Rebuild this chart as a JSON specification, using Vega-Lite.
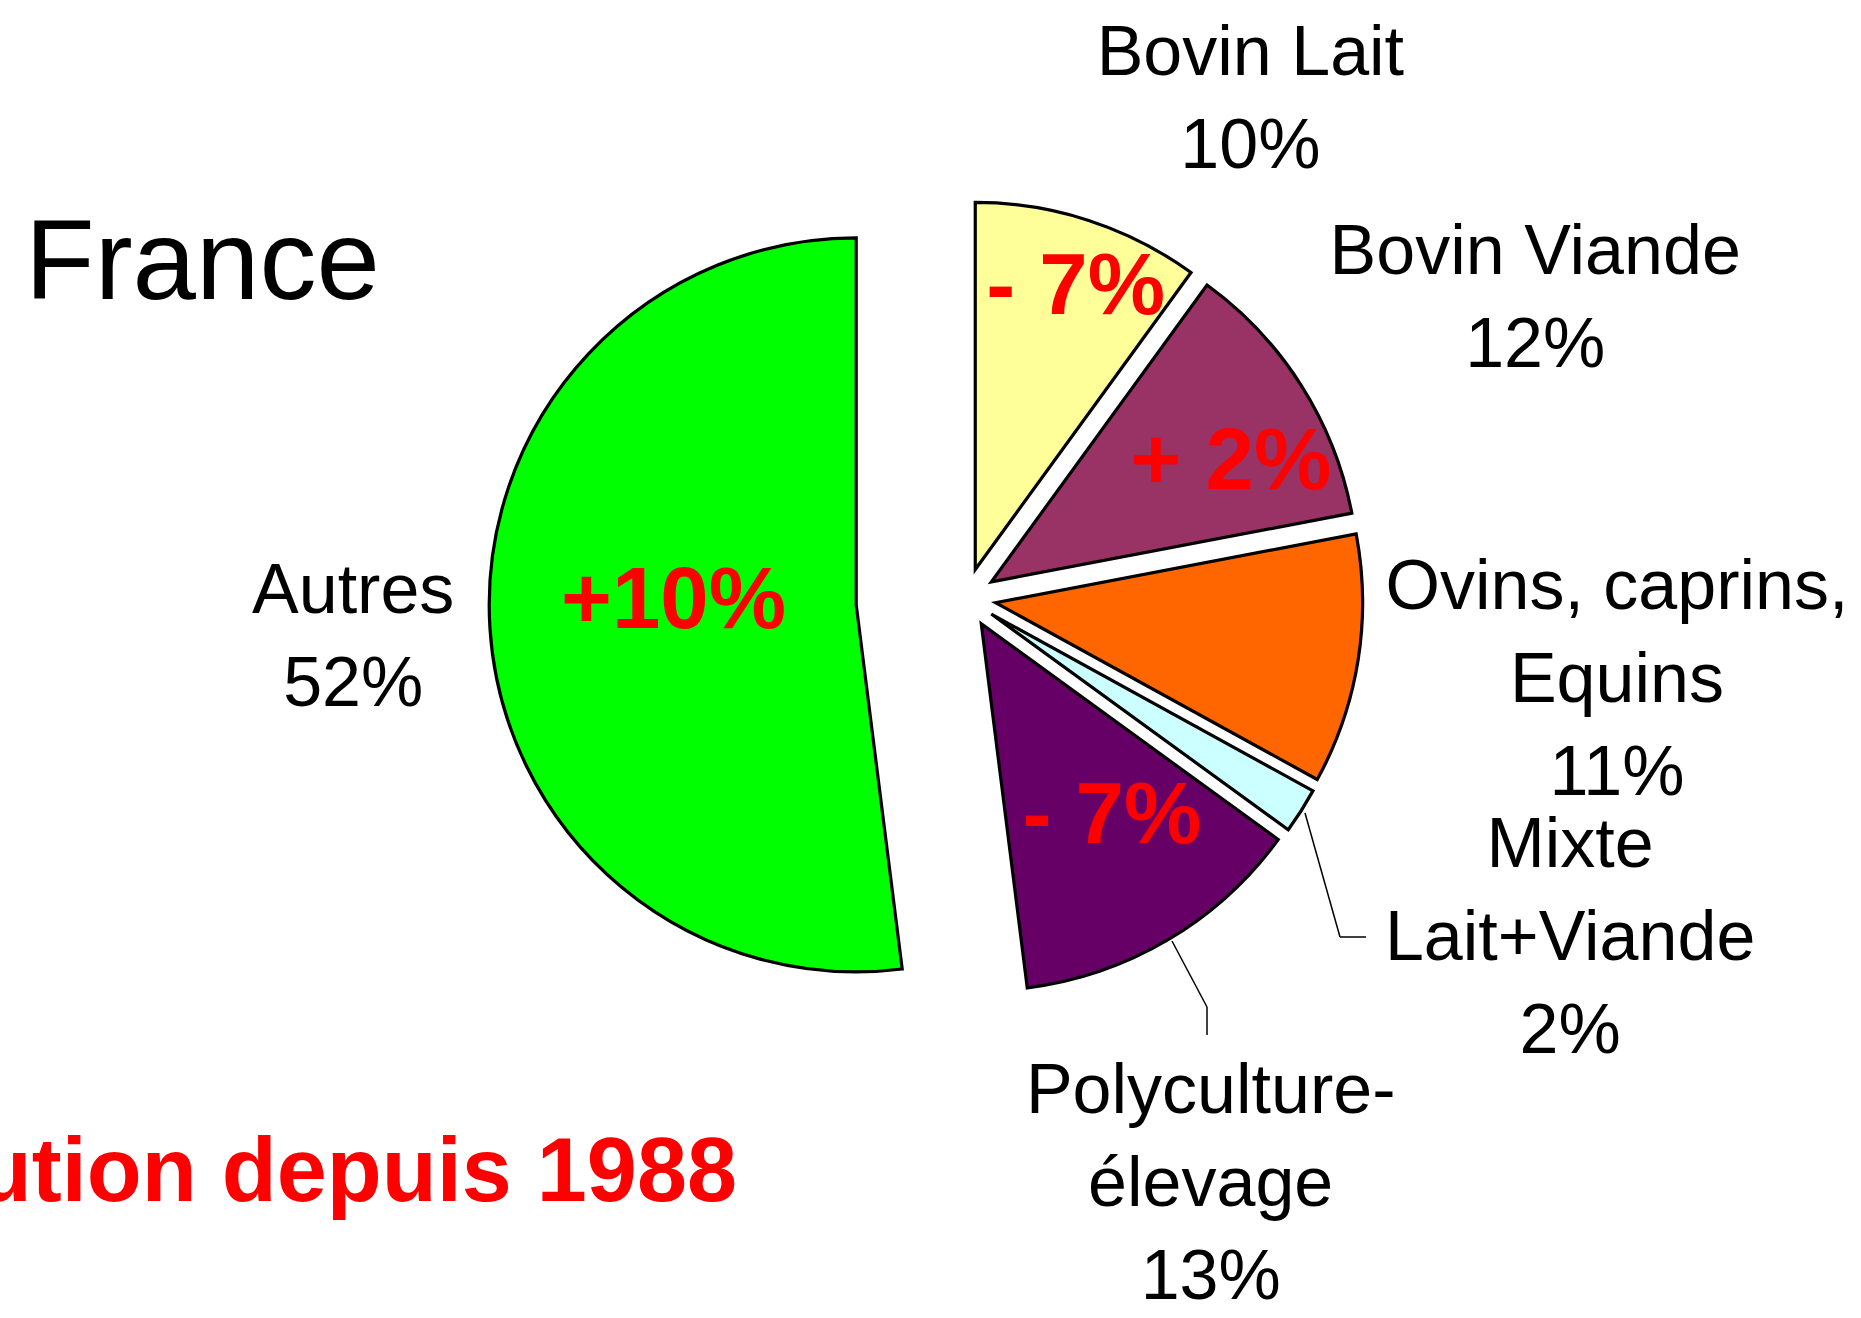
{
  "$schema": "https://vega.github.io/schema/vega-lite/v6.json",
  "width": 1861,
  "height": 1318,
  "padding": 0,
  "autosize": {"type": "none"},
  "background": "white",
  "config": {"view": {"stroke": null}},
  "datasets": {
    "parts": [
      {"cat": "Bovin Lait", "v": 10, "evol": "- 7%"},
      {"cat": "Bovin Viande", "v": 12, "evol": "+ 2%"},
      {"cat": "Ovins, caprins,\nEquins", "v": 11, "evol": ""},
      {"cat": "Mixte\nLait+Viande", "v": 2, "evol": ""},
      {"cat": "Polyculture-\nélevage", "v": 13, "evol": "- 7%"},
      {"cat": "Autres", "v": 52, "evol": "+10%"}
    ],
    "titles": [{"t": "France"}],
    "notes": [{"t": "Évolution depuis 1988"}]
  },
  "layer": [
    {
      "data": {"name": "parts"},
      "transform": [{"window": [{"op": "row_number", "as": "i"}]}],
      "mark": {
        "type": "arc",
        "outerRadius": 367,
        "stroke": "black",
        "strokeWidth": 3.2,
        "x": {"expr": "966 + [30,30,30,30,30,110][datum.i-1] * sin(PI*(datum.v_start+datum.v_end)/100)"},
        "y": {"expr": "598 - [30,30,30,30,30,110][datum.i-1] * cos(PI*(datum.v_start+datum.v_end)/100)"}
      },
      "encoding": {
        "theta": {"field": "v", "type": "quantitative", "stack": true},
        "order": {"field": "i", "type": "quantitative"},
        "color": {
          "field": "cat",
          "type": "nominal",
          "legend": null,
          "scale": {
            "domain": ["Bovin Lait", "Bovin Viande", "Ovins, caprins,\nEquins", "Mixte\nLait+Viande", "Polyculture-\nélevage", "Autres"],
            "range": ["#FFFF99", "#993366", "#FF6600", "#CCFFFF", "#660066", "#00FF00"]
          }
        }
      }
    },
    {
      "data": {"name": "parts"},
      "transform": [
        {"window": [{"op": "row_number", "as": "i"}]},
        {"filter": "datum.i == 4 || datum.i == 5"}
      ],
      "mark": {"type": "rule", "stroke": "black", "strokeWidth": 1.5},
      "encoding": {
        "x": {"value": {"expr": "datum.i == 4 ? 1305 : 1172"}},
        "y": {"value": {"expr": "datum.i == 4 ? 813 : 941"}},
        "x2": {"value": {"expr": "datum.i == 4 ? 1340 : 1207"}},
        "y2": {"value": {"expr": "datum.i == 4 ? 937 : 1007"}}
      }
    },
    {
      "data": {"name": "parts"},
      "transform": [
        {"window": [{"op": "row_number", "as": "i"}]},
        {"filter": "datum.i == 4 || datum.i == 5"}
      ],
      "mark": {"type": "rule", "stroke": "black", "strokeWidth": 1.5},
      "encoding": {
        "x": {"value": {"expr": "datum.i == 4 ? 1340 : 1207"}},
        "y": {"value": {"expr": "datum.i == 4 ? 937 : 1007"}},
        "x2": {"value": {"expr": "datum.i == 4 ? 1366 : 1207"}},
        "y2": {"value": {"expr": "datum.i == 4 ? 937 : 1035"}}
      }
    },
    {
      "data": {"name": "parts"},
      "transform": [{"window": [{"op": "row_number", "as": "i"}]}],
      "mark": {
        "type": "text",
        "x": 966,
        "y": 598,
        "radius": {"expr": "[561, 641, 656, 693, 630, 614][datum.i-1]"},
        "dx": {"expr": "[111, 28, 3, 19, -76, 0][datum.i-1]"},
        "dy": {"expr": "[-10, -2, -113, -123, -48, -45][datum.i-1]"},
        "font": "Liberation Sans",
        "fontSize": 70,
        "lineHeight": 93,
        "lineBreak": "\n",
        "align": "center",
        "baseline": "middle",
        "fill": "black",
        "text": {"expr": "datum.cat + '\\n' + datum.v + '%'"}
      },
      "encoding": {
        "theta": {"field": "v", "type": "quantitative", "stack": true},
        "order": {"field": "i", "type": "quantitative"},
        "detail": {"field": "cat", "type": "nominal"}
      }
    },
    {
      "data": {"name": "parts"},
      "transform": [{"window": [{"op": "row_number", "as": "i"}]}],
      "mark": {
        "type": "text",
        "x": 966,
        "y": 598,
        "radius": {"expr": "[329, 296, 0, 0, 263, 292][datum.i-1]"},
        "dx": {"expr": "[8, 15, 0, 0, 12, -1][datum.i-1]"},
        "dy": {"expr": "[3, 24, 0, 0, -7, -14][datum.i-1]"},
        "font": "Liberation Sans",
        "fontWeight": "bold",
        "fontSize": 87,
        "align": "center",
        "baseline": "middle",
        "fill": "#FF0000"
      },
      "encoding": {
        "theta": {"field": "v", "type": "quantitative", "stack": true},
        "order": {"field": "i", "type": "quantitative"},
        "detail": {"field": "cat", "type": "nominal"},
        "text": {"field": "evol", "type": "nominal"}
      }
    },
    {
      "data": {"name": "titles"},
      "mark": {
        "type": "text",
        "x": 25,
        "y": 299,
        "align": "left",
        "baseline": "alphabetic",
        "font": "Liberation Sans",
        "fontSize": 114,
        "fill": "black"
      },
      "encoding": {"text": {"field": "t", "type": "nominal"}}
    },
    {
      "data": {"name": "notes"},
      "mark": {
        "type": "text",
        "x": 737,
        "y": 1201,
        "align": "right",
        "baseline": "alphabetic",
        "font": "Liberation Sans",
        "fontWeight": "bold",
        "fontSize": 90,
        "fill": "#FF0000"
      },
      "encoding": {"text": {"field": "t", "type": "nominal"}}
    }
  ]
}
